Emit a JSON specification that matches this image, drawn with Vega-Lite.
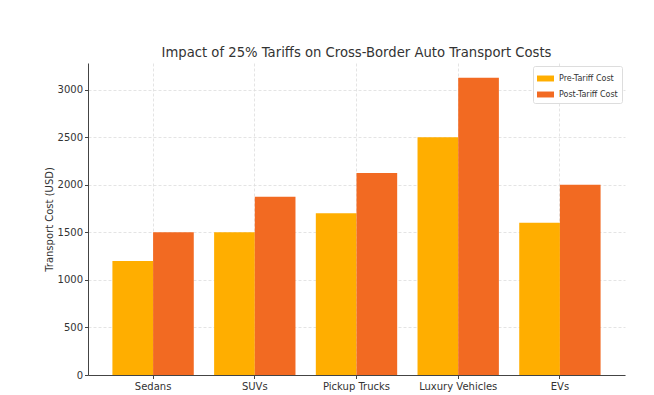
{
  "$schema": "https://vega.github.io/schema/vega-lite/v6.json",
  "autosize": "none",
  "width": 537,
  "height": 312,
  "padding": {"left": 88, "top": 63, "right": 29, "bottom": 20},
  "background": "white",
  "config": {
    "view": {"stroke": null},
    "font": "DejaVu Sans",
    "axis": {
      "labelFont": "DejaVu Sans",
      "titleFont": "DejaVu Sans",
      "labelFontSize": 10,
      "titleFontSize": 10,
      "labelColor": "#333333",
      "titleColor": "#333333",
      "titleFontWeight": "normal",
      "domainColor": "#444444",
      "tickColor": "#444444",
      "tickSize": 3.5,
      "gridColor": "#dddddd",
      "gridDash": [3, 2],
      "gridWidth": 0.8
    }
  },
  "title": {
    "text": "Impact of 25% Tariffs on Cross-Border Auto Transport Costs",
    "fontSize": 13.2,
    "fontWeight": "normal",
    "color": "#333333",
    "font": "DejaVu Sans",
    "anchor": "middle",
    "offset": 3
  },
  "data": {
    "values": [
      {"vehicle": "Sedans", "type": "Pre-Tariff Cost", "cost": 1200},
      {"vehicle": "Sedans", "type": "Post-Tariff Cost", "cost": 1500},
      {"vehicle": "SUVs", "type": "Pre-Tariff Cost", "cost": 1500},
      {"vehicle": "SUVs", "type": "Post-Tariff Cost", "cost": 1875},
      {"vehicle": "Pickup Trucks", "type": "Pre-Tariff Cost", "cost": 1700},
      {"vehicle": "Pickup Trucks", "type": "Post-Tariff Cost", "cost": 2125},
      {"vehicle": "Luxury Vehicles", "type": "Pre-Tariff Cost", "cost": 2500},
      {"vehicle": "Luxury Vehicles", "type": "Post-Tariff Cost", "cost": 3125},
      {"vehicle": "EVs", "type": "Pre-Tariff Cost", "cost": 1600},
      {"vehicle": "EVs", "type": "Post-Tariff Cost", "cost": 2000}
    ]
  },
  "mark": {"type": "bar"},
  "encoding": {
    "x": {
      "field": "vehicle",
      "type": "nominal",
      "sort": ["Sedans", "SUVs", "Pickup Trucks", "Luxury Vehicles", "EVs"],
      "scale": {"paddingInner": 0.2, "paddingOuter": 0.24},
      "axis": {"title": null, "labelAngle": 0, "grid": true, "bandPosition": 0.5, "labelPadding": 3}
    },
    "xOffset": {
      "field": "type",
      "type": "nominal",
      "sort": ["Pre-Tariff Cost", "Post-Tariff Cost"],
      "scale": {"paddingInner": 0, "paddingOuter": 0}
    },
    "y": {
      "field": "cost",
      "type": "quantitative",
      "scale": {"domain": [0, 3281], "nice": false},
      "axis": {"title": "Transport Cost (USD)", "format": "d", "values": [0, 500, 1000, 1500, 2000, 2500, 3000], "grid": true, "titlePadding": 3}
    },
    "color": {
      "field": "type",
      "type": "nominal",
      "sort": ["Pre-Tariff Cost", "Post-Tariff Cost"],
      "scale": {"domain": ["Pre-Tariff Cost", "Post-Tariff Cost"], "range": ["#FFAE00", "#F26A22"]},
      "legend": {
        "title": null,
        "orient": "top-right",
        "offset": 3,
        "symbolType": "M-1,-0.35H1V0.35H-1Z",
        "symbolSize": 289,
        "symbolStrokeWidth": 0,
        "labelFontSize": 8,
        "labelFont": "DejaVu Sans",
        "labelColor": "#333333",
        "labelOffset": 5,
        "strokeColor": "#dddddd",
        "fillColor": "white",
        "padding": 4,
        "rowPadding": 3,
        "cornerRadius": 2
      }
    }
  }
}
